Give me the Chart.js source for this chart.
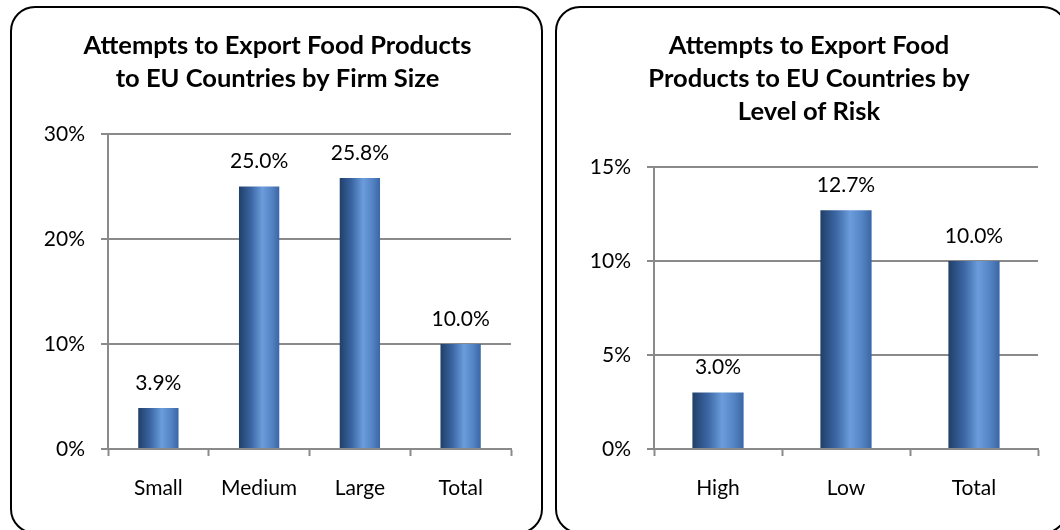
<!DOCTYPE html>
<html lang="en">
<head>
  <meta charset="UTF-8">
  <title>Attempts to Export Food Products to EU Countries</title>
  <script src="https://cdn.jsdelivr.net/npm/chart.js"></script>
  <style>
    html, body { margin: 0; padding: 0; background: #fff; overflow: hidden; }
    body { width: 1060px; height: 530px; position: relative; }
    .panel {
      position: absolute; top: 6px; height: 528px;
      border: 2px solid #000; border-radius: 25px; box-sizing: border-box;
    }
    canvas { position: absolute; top: 8px; }
  </style>
</head>
<body>
  <div class="panel" style="left:10px; width:533px;"></div>
  <div class="panel" style="left:555px; width:513px;"></div>
  <canvas id="sizeChart" width="529" height="522" style="left:12px;"></canvas>
  <canvas id="riskChart" width="503" height="522" style="left:557px;"></canvas>

  <script>
    // Share of firms that tried exporting to the EU (percent)
    const sizeLabels = ['Small', 'Medium', 'Large', 'Total'];
    const sizeValues = [3.9, 25.0, 25.8, 10.0];
    const sizeTitle = ['Attempts to Export Food Products', 'to EU Countries by Firm Size'];

    const riskLabels = ['High', 'Low', 'Total'];
    const riskValues = [3.0, 12.7, 10.0];
    const riskTitle = ['Attempts to Export Food', 'Products to EU Countries by', 'Level of Risk'];

    const FONT = 'Lato, "Open Sans", sans-serif';
    const AXIS_GREY = '#8a8a8a';

    // horizontal shading across each bar, dark on the left, light just past the middle
    function barGradient(context) {
      const chart = context.chart;
      const xs = chart.scales.x;
      if (!xs || !chart.chartArea) return '#4f81bd';
      const cx = xs.getPixelForValue(context.dataIndex);
      const half = xs.width / chart.data.labels.length * 0.4 / 2;
      const g = chart.ctx.createLinearGradient(cx - half, 0, cx + half, 0);
      g.addColorStop(0, '#213f69');
      g.addColorStop(0.3, '#3b66a3');
      g.addColorStop(0.58, '#6b9cdb');
      g.addColorStop(0.82, '#5383c3');
      g.addColorStop(1, '#3a66a4');
      return g;
    }

    // value text above every bar
    const valueLabels = {
      id: 'valueLabels',
      afterDatasetsDraw(chart) {
        const ctx = chart.ctx;
        const meta = chart.getDatasetMeta(0);
        const values = chart.data.datasets[0].data;
        ctx.save();
        ctx.font = '21px ' + FONT;
        ctx.fillStyle = '#000';
        ctx.textAlign = 'center';
        ctx.textBaseline = 'middle';
        meta.data.forEach((bar, i) => {
          ctx.fillText(values[i].toFixed(1) + '%', bar.x, bar.y - 25);
        });
        ctx.restore();
      }
    };

    function makeChart(id, labels, values, title, opts) {
      return new Chart(document.getElementById(id), {
        type: 'bar',
        data: {
          labels: labels,
          datasets: [{
            data: values,
            backgroundColor: barGradient,
            barPercentage: 0.4,
            categoryPercentage: 1
          }]
        },
        options: {
          responsive: false,
          animation: false,
          devicePixelRatio: 1,
          layout: { padding: { left: opts.padLeft, right: opts.padRight, top: 0, bottom: 0 } },
          plugins: {
            legend: { display: false },
            tooltip: { enabled: false },
            title: {
              display: true,
              text: title,
              color: '#000',
              font: { family: FONT, size: 25.5, weight: 'bold', lineHeight: '33px' },
              padding: { top: 21.5, bottom: opts.titleGap }
            }
          },
          scales: {
            x: {
              grid: {
                offset: true,
                drawOnChartArea: false,
                drawTicks: true,
                tickLength: 7,
                tickWidth: 2,
                tickColor: AXIS_GREY
              },
              border: { display: true, color: AXIS_GREY, width: 2 },
              ticks: { color: '#000', font: { family: FONT, size: 21 }, padding: 20 },
              afterFit(scale) { scale.height = 81; }
            },
            y: {
              min: 0,
              max: opts.max,
              ticks: {
                stepSize: opts.step,
                color: '#000',
                font: { family: FONT, size: 21 },
                padding: 16,
                callback: v => v + '%'
              },
              grid: { color: AXIS_GREY, lineWidth: 2, tickLength: 7 },
              border: { display: true, color: AXIS_GREY, width: 2 },
              afterFit(scale) { scale.width = opts.axisWidth; }
            }
          }
        },
        plugins: [valueLabels]
      });
    }

    makeChart('sizeChart', sizeLabels, sizeValues, sizeTitle,
      { padLeft: 32, padRight: 30, axisWidth: 64, titleGap: 38.5, max: 30, step: 10 });
    makeChart('riskChart', riskLabels, riskValues, riskTitle,
      { padLeft: 23, padRight: 22, axisWidth: 74, titleGap: 38.5, max: 15, step: 5 });
  </script>
</body>
</html>
